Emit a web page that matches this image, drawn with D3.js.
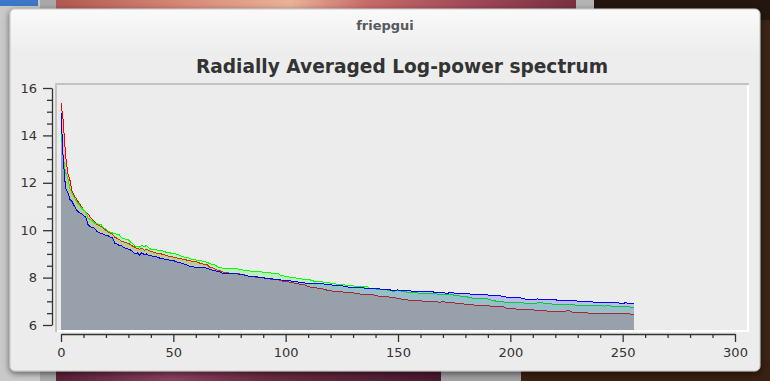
<!DOCTYPE html>
<html><head><meta charset="utf-8">
<script src="https://cdn.jsdelivr.net/npm/d3@7/dist/d3.min.js"></script>
<style>html,body{margin:0;padding:0;overflow:hidden;background:#3a2028}</style>
</head><body>
<svg id="c" width="770" height="381"></svg>
<script>
// ---- data (radial frequency index 0..255, log-power per channel) ----
const windowTitle = "friepgui";
const chartTitle = "Radially Averaged Log-power spectrum";
const xTicks = [0, 50, 100, 150, 200, 250, 300];
const yTicks = [6, 8, 10, 12, 14, 16];
const xMinorTicks = [10,20,30,40,60,70,80,90,110,120,130,140,160,170,180,190,210,220,230,240,260,270,280,290];
const yMinorTicks = [6.5,7,7.5,8.5,9,9.5,10.5,11,11.5,12.5,13,13.5,14.5,15,15.5];

const redValues = [15.37,14.6,13.2,12.4,12.1,11.6,11.45,11.3,11.15,11.0,10.88,10.78,10.7,10.55,10.45,10.35,10.25,10.2,10.15,10.05,
10.0,9.92,9.88,9.82,9.7,9.66,9.6,9.52,9.5,9.47,9.45,9.38,9.32,9.28,9.22,9.2,9.24,9.15,9.2,9.14,
9.1,9.08,9.04,9.02,9.01,8.99,8.96,8.93,8.9,8.88,8.87,8.85,8.82,8.8,8.78,8.76,8.74,8.72,8.7,8.68,
8.67,8.64,8.6,8.58,8.56,8.55,8.45,8.42,8.39,8.35,8.3,8.28,8.24,8.22,8.21,8.19,8.19,8.19,8.18,8.18,
8.14,8.12,8.11,8.08,8.04,8.03,8.03,8.02,8.0,7.99,7.99,7.98,7.95,7.94,7.93,7.93,7.92,7.91,7.86,7.85,
7.84,7.82,7.8,7.78,7.77,7.76,7.73,7.71,7.7,7.68,7.62,7.6,7.58,7.57,7.56,7.55,7.54,7.5,7.48,7.46,
7.44,7.43,7.43,7.42,7.42,7.4,7.38,7.37,7.36,7.36,7.36,7.34,7.33,7.31,7.3,7.3,7.3,7.29,7.28,7.27,
7.26,7.23,7.2,7.2,7.2,7.19,7.18,7.16,7.15,7.14,7.13,7.11,7.08,7.07,7.06,7.05,7.04,7.04,7.03,7.02,
7.02,7.01,7.0,7.0,7.0,6.99,6.98,6.98,6.97,6.97,6.98,6.97,6.97,6.97,6.97,6.94,6.9,6.9,6.89,6.89,
6.88,6.87,6.86,6.85,6.84,6.84,6.83,6.83,6.82,6.82,6.81,6.8,6.79,6.79,6.78,6.77,6.77,6.76,6.72,6.71,
6.7,6.69,6.68,6.67,6.66,6.66,6.66,6.65,6.64,6.64,6.64,6.63,6.62,6.61,6.6,6.6,6.6,6.58,6.57,6.56,
6.55,6.55,6.56,6.56,6.56,6.6,6.63,6.56,6.54,6.53,6.53,6.52,6.52,6.51,6.51,6.5,6.5,6.5,6.5,6.5,
6.5,6.49,6.48,6.48,6.48,6.47,6.47,6.47,6.47,6.47,6.47,6.49,6.5,6.47,6.43,6.46];

const greenValues = [14.2,13.1,12.45,12.2,11.75,11.55,11.35,11.2,11.08,10.95,10.85,10.78,10.52,10.45,10.4,10.3,10.28,10.25,10.22,10.1,
10.05,9.97,9.92,9.88,9.85,9.82,9.8,9.68,9.65,9.59,9.59,9.5,9.42,9.33,9.33,9.29,9.37,9.29,9.36,9.27,
9.2,9.2,9.19,9.16,9.16,9.13,9.1,9.06,9.06,9.03,9.02,9.0,8.97,8.93,8.88,8.86,8.86,8.83,8.78,8.78,
8.74,8.72,8.72,8.69,8.67,8.65,8.6,8.57,8.56,8.5,8.43,8.42,8.4,8.38,8.38,8.38,8.38,8.38,8.37,8.36,
8.33,8.32,8.31,8.29,8.28,8.27,8.27,8.25,8.24,8.24,8.23,8.22,8.2,8.2,8.19,8.18,8.19,8.15,8.08,8.07,
8.06,8.05,8.01,8.0,7.99,7.98,7.96,7.95,7.93,7.92,7.9,7.9,7.86,7.85,7.84,7.83,7.82,7.81,7.8,7.79,
7.76,7.75,7.74,7.72,7.72,7.7,7.69,7.68,7.67,7.66,7.65,7.63,7.62,7.61,7.61,7.6,7.64,7.57,7.53,7.53,
7.52,7.51,7.51,7.5,7.49,7.48,7.46,7.44,7.42,7.44,7.45,7.44,7.41,7.4,7.39,7.39,7.38,7.37,7.36,7.35,
7.34,7.34,7.33,7.33,7.33,7.32,7.32,7.31,7.3,7.3,7.3,7.29,7.29,7.28,7.28,7.26,7.24,7.23,7.22,7.21,
7.21,7.18,7.16,7.14,7.13,7.12,7.12,7.11,7.1,7.1,7.1,7.07,7.04,7.02,7.0,6.99,6.98,6.97,6.96,6.96,
6.96,6.95,6.95,6.94,6.94,6.93,6.93,6.91,6.9,6.9,6.9,6.92,6.93,6.94,6.94,6.92,6.9,6.89,6.89,6.88,
6.88,6.88,6.88,6.87,6.86,6.85,6.85,6.85,6.85,6.84,6.84,6.84,6.84,6.83,6.82,6.83,6.83,6.82,6.82,6.82,
6.82,6.81,6.8,6.81,6.81,6.8,6.8,6.8,6.79,6.79,6.79,6.78,6.78,6.77,6.74,6.76];

const blueValues = [14.95,13.0,11.8,11.6,11.3,11.2,11.0,10.85,10.75,10.7,10.62,10.55,10.25,10.15,10.12,10.08,9.95,9.9,9.85,9.83,
9.78,9.76,9.7,9.67,9.45,9.42,9.35,9.34,9.26,9.24,9.2,9.16,9.09,9.0,9.05,8.95,9.05,8.98,9.0,8.93,
8.93,8.9,8.88,8.86,8.82,8.8,8.78,8.76,8.74,8.73,8.72,8.68,8.65,8.62,8.6,8.57,8.53,8.49,8.46,8.45,
8.44,8.44,8.44,8.42,8.41,8.4,8.36,8.33,8.3,8.28,8.26,8.22,8.18,8.18,8.17,8.17,8.16,8.16,8.16,8.15,
8.15,8.12,8.1,8.07,8.05,8.05,8.05,8.03,8.02,8.01,8.0,7.97,7.95,7.95,7.95,7.92,7.9,7.9,7.9,7.89,
7.88,7.87,7.86,7.85,7.84,7.82,7.81,7.8,7.78,7.77,7.76,7.75,7.75,7.76,7.77,7.75,7.74,7.73,7.72,7.71,
7.7,7.68,7.66,7.66,7.66,7.65,7.64,7.62,7.6,7.6,7.6,7.58,7.57,7.57,7.57,7.56,7.55,7.54,7.53,7.52,
7.52,7.52,7.52,7.51,7.5,7.49,7.49,7.47,7.45,7.47,7.48,7.46,7.45,7.46,7.47,7.45,7.43,7.43,7.43,7.42,
7.41,7.42,7.42,7.42,7.42,7.4,7.39,7.38,7.37,7.37,7.37,7.35,7.34,7.36,7.37,7.35,7.34,7.33,7.32,7.31,
7.31,7.31,7.31,7.29,7.28,7.29,7.29,7.28,7.27,7.27,7.27,7.25,7.24,7.24,7.24,7.23,7.22,7.2,7.18,7.18,
7.18,7.17,7.15,7.15,7.15,7.13,7.11,7.09,7.08,7.07,7.06,7.08,7.1,7.08,7.06,7.08,7.09,7.08,7.08,7.07,
7.06,7.05,7.04,7.04,7.04,7.04,7.04,7.03,7.03,7.02,7.01,7.0,6.99,6.98,6.97,6.98,6.99,6.97,6.96,6.96,
6.96,6.95,6.94,6.94,6.93,6.93,6.93,6.93,6.93,6.92,6.92,6.93,6.93,6.91,6.89,6.92];

const seriesNames = ["red", "green", "blue"];
const seriesColors = ["#ff0000", "#00ff00", "#0000ff"];
const seriesData = [redValues, greenValues, blueValues];

// ---- drawing ----
const svg = d3.select("#c");
const defs = svg.append("defs");

// desktop backdrop (photo-like surroundings)
const bgGrad = defs.append("linearGradient").attr("id", "photo").attr("x1", 0).attr("x2", 1);
[["0%","#b05850"],["25%","#d88a78"],["45%","#e9b39a"],["60%","#c86a68"],["80%","#a04858"],["100%","#7a3040"]]
  .forEach(([o,c]) => bgGrad.append("stop").attr("offset", o).attr("stop-color", c));
const botGrad = defs.append("linearGradient").attr("id", "photo2").attr("x1", 0).attr("x2", 1);
[["0%","#5a2038"],["30%","#8a4060"],["55%","#6a2a40"],["100%","#4a1a30"]]
  .forEach(([o,c]) => botGrad.append("stop").attr("offset", o).attr("stop-color", c));

svg.append("rect").attr("width", 770).attr("height", 381).attr("fill", "#3a2218");
svg.append("rect").attr("x", 0).attr("y", 0).attr("width", 40).attr("height", 381).attr("fill", "#c9c9c9");
svg.append("rect").attr("x", 0).attr("y", 0).attr("width", 38).attr("height", 6).attr("fill", "#3c78c8");
svg.append("rect").attr("x", 40).attr("y", 0).attr("width", 16).attr("height", 381).attr("fill", "#a8a8a8");
svg.append("rect").attr("x", 56).attr("y", 0).attr("width", 520).attr("height", 20).attr("fill", "url(#photo)");
svg.append("rect").attr("x", 576).attr("y", 0).attr("width", 18).attr("height", 20).attr("fill", "#b4b4b4");
svg.append("rect").attr("x", 594).attr("y", 0).attr("width", 176).attr("height", 20).attr("fill", "#24160e");
svg.append("rect").attr("x", 56).attr("y", 355).attr("width", 385).attr("height", 26).attr("fill", "url(#photo2)");
svg.append("rect").attr("x", 441).attr("y", 355).attr("width", 80).attr("height", 26).attr("fill", "#a0a0a0");
svg.append("rect").attr("x", 521).attr("y", 355).attr("width", 249).attr("height", 26).attr("fill", "#3a2010");
svg.append("rect").attr("x", 758).attr("y", 20).attr("width", 12).attr("height", 340).attr("fill", "#3a2414");

// window
const shadow = defs.append("filter").attr("id", "sh").attr("x", "-5%").attr("y", "-5%").attr("width", "110%").attr("height", "115%");
shadow.append("feDropShadow").attr("dx", 0).attr("dy", 2).attr("stdDeviation", 3).attr("flood-color", "#000").attr("flood-opacity", 0.55);
const winGrad = defs.append("linearGradient").attr("id", "win").attr("x1", 0).attr("x2", 0).attr("y1", 0).attr("y2", 1);
[["0%","#fafafa"],["12%","#ededed"],["100%","#ececec"]]
  .forEach(([o,c]) => winGrad.append("stop").attr("offset", o).attr("stop-color", c));
svg.append("rect").attr("x", 10).attr("y", 9).attr("width", 750).attr("height", 362).attr("rx", 5)
  .attr("fill", "url(#win)").attr("stroke", "#c4c4c4").attr("stroke-width", 1).attr("filter", "url(#sh)");

svg.append("text").attr("x", 385).attr("y", 30).attr("text-anchor", "middle")
  .attr("font-family", "DejaVu Sans").attr("font-weight", "bold").attr("font-size", 13)
  .attr("fill", "#555a5e").text(windowTitle);

svg.append("text").attr("x", 402).attr("y", 73).attr("text-anchor", "middle")
  .attr("font-family", "DejaVu Sans").attr("font-weight", "bold").attr("font-size", 18.6)
  .attr("fill", "#333333").text(chartTitle);

// plot frame (sunken view box)
const frame = {left: 55, top: 83, right: 749, bottom: 332};
const inner = {left: frame.left + 2, top: frame.top + 2, right: frame.right - 2, bottom: frame.bottom - 2};
svg.append("rect").attr("x", frame.left).attr("y", frame.top)
  .attr("width", frame.right - frame.left).attr("height", frame.bottom - frame.top).attr("fill", "#ffffff");
svg.append("path").attr("fill", "#c3c3c3")
  .attr("d", `M${frame.left},${frame.top}H${frame.right}V${frame.top+2}H${frame.left+2}V${frame.bottom}H${frame.left}Z`);
svg.append("rect").attr("x", inner.left).attr("y", inner.top)
  .attr("width", inner.right - inner.left).attr("height", inner.bottom - inner.top).attr("fill", "#ececec");

const x = d3.scaleLinear().domain([0, 300]).range([61, 735]);
const y = d3.scaleLinear().domain([6, 16]).range([325, 88]);
const fillLevel = y.invert(inner.bottom);

defs.append("clipPath").attr("id", "clip").append("rect")
  .attr("x", inner.left).attr("y", inner.top)
  .attr("width", inner.right - inner.left).attr("height", inner.bottom - inner.top);

const plot = svg.append("g").attr("clip-path", "url(#clip)");
const area = d3.area().x((d, i) => x(i)).y0(y(fillLevel)).y1(d => y(d));
const line = d3.line().x((d, i) => x(i)).y(d => y(d));

seriesData.forEach((vals, k) => {
  plot.append("path").datum(vals).attr("d", area)
    .attr("fill", seriesColors[k]).attr("fill-opacity", 0.2)
    .attr("shape-rendering", "crispEdges");
  plot.append("path").datum(vals).attr("d", line)
    .attr("fill", "none").attr("stroke", seriesColors[k]).attr("stroke-width", 1)
    .attr("shape-rendering", "crispEdges").attr("class", "s-" + seriesNames[k]);
});

// axes
const axisColor = "#333333";
const yAxis = svg.append("g").attr("transform", "translate(52,0)")
  .call(d3.axisLeft(y).tickValues(yTicks).tickSize(9).tickSizeOuter(0).tickPadding(6).tickFormat(d3.format("d")));
svg.append("g").attr("transform", "translate(52,0)")
  .call(d3.axisLeft(y).tickValues(yMinorTicks).tickSize(5).tickSizeOuter(0).tickFormat(""))
  .select(".domain").remove();
const xAxis = svg.append("g").attr("transform", "translate(0,334)")
  .call(d3.axisBottom(x).tickValues(xTicks).tickSize(8).tickSizeOuter(0).tickPadding(6).tickFormat(d3.format("d")));
svg.append("g").attr("transform", "translate(0,334)")
  .call(d3.axisBottom(x).tickValues(xMinorTicks).tickSize(4).tickSizeOuter(0).tickFormat(""))
  .select(".domain").remove();

svg.selectAll(".domain, .tick line").attr("stroke", axisColor).attr("stroke-width", 1.3);
svg.selectAll(".tick text").attr("fill", axisColor).attr("font-family", "DejaVu Sans").attr("font-size", 13);
</script>
</body></html>
